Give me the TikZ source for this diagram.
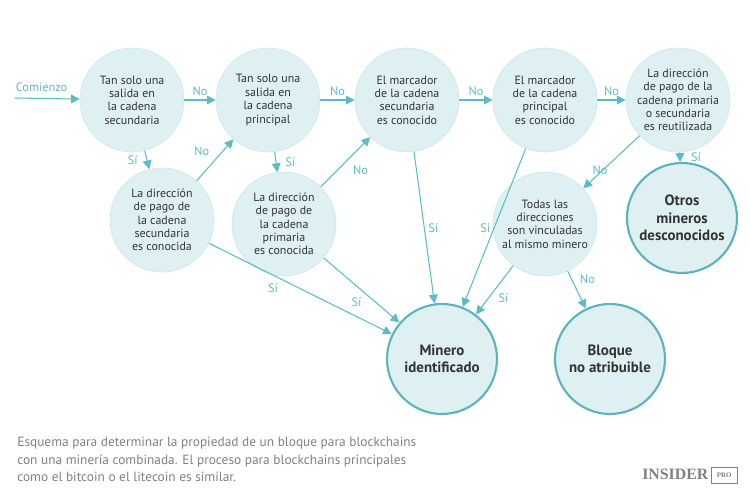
\documentclass[tikz,border=0pt]{standalone}
\usepackage{fontspec}
\setmainfont{PT Sans}
\newfontfamily\logofont{Liberation Serif}
\usetikzlibrary{arrows.meta}
\definecolor{flowline}{HTML}{5BBCC6}
\definecolor{bubble}{HTML}{DFF0F3}
\definecolor{bubbleedge}{HTML}{CDE8EC}
\definecolor{endedge}{HTML}{5BB3BB}
\definecolor{inktext}{HTML}{333333}
\tikzstyle{question} = [circle, minimum size=2.08cm, inner sep=0pt, align=center, fill=bubble, draw=bubbleedge, text=inktext, font=\fontsize{6.8}{7.6}\selectfont]
\tikzstyle{outcome} = [circle, minimum size=2.2cm, inner sep=0pt, align=center, fill=bubble, draw=endedge, line width=1.2pt, text=inktext, font=\fontsize{8.5}{10}\selectfont\bfseries]
\tikzstyle{arrow} = [draw=flowline, line width=0.6pt, -{Triangle[length=5pt,width=5pt]}]
\tikzstyle{answer} = [text=flowline, font=\fontsize{7}{8}\selectfont, inner sep=2pt]

\begin{document}
\begin{tikzpicture}[x=0.02cm, y=-0.02cm]
		\useasboundingbox (0,0) rectangle (750,492);
		
		\node (Start) [answer, anchor=south west] at (12,96) {Comienzo};
		\coordinate (Entry) at (15,98);
		\node (OneOutSec) [question] at (132,100) {Tan solo una\\salida en\\la cadena\\secundaria};
		\node (OneOutMain) [question] at (268,100) {Tan solo una\\salida en\\la cadena\\principal};
		\node (MarkSec) [question] at (407,100) {El marcador\\de la cadena\\secundaria\\es conocido};
		\node (MarkMain) [question] at (545,100) {El marcador\\de la cadena\\principal\\es conocido};
		\node (Reused) [question] at (678,100) {La dirección\\de pago de la\\cadena primaria\\o secundaria\\es reutilizada};
		\node (PaySec) [question] at (162,220) {La dirección\\de pago de\\la cadena\\secundaria\\es conocida};
		\node (PayMain) [question] at (284,224) {La dirección\\de pago de\\la cadena\\primaria\\es conocida};
		\node (Linked) [question] at (545,224) {Todas las\\direcciones\\son vinculadas\\al mismo minero};
		\node (Others) [outcome] at (682,218) {Otros\\mineros\\desconocidos};
		\node (Identified) [outcome] at (442,359) {Minero\\identificado};
		\node (Unknown) [outcome] at (610,359) {Bloque\\no atribuible};
		
		\draw [arrow] (Entry) -- (OneOutSec);
		\draw [arrow] (OneOutSec) -- node[answer, above] {No} (OneOutMain);
		\draw [arrow] (OneOutMain) -- node[answer, above] {No} (MarkSec);
		\draw [arrow] (MarkSec) -- node[answer, above] {No} (MarkMain);
		\draw [arrow] (MarkMain) -- node[answer, above] {No} (Reused);
		\draw [arrow] (OneOutSec) -- node[answer, left, xshift=-3pt] {Sí} (PaySec);
		\draw [arrow] (PaySec) -- node[answer, above left, xshift=-1pt] {No} (OneOutMain);
		\draw [arrow] (OneOutMain) -- node[answer, right, xshift=3pt] {Sí} (PayMain);
		\draw [arrow] (PayMain) -- node[answer, below right, xshift=2pt] {No} (MarkSec);
		\draw [arrow] (Reused) -- node[answer, right, xshift=4pt] {Sí} (Others);
		\draw [arrow] (Reused) -- node[answer, below left, pos=0.5] {No} (Linked);
		\draw [arrow] (PaySec) -- node[answer, below left, pos=0.4] {Sí} (Identified);
		\draw [arrow] (PayMain) -- node[answer, below left, pos=0.55] {Sí} (Identified);
		\draw [arrow] (MarkSec) -- node[answer, right, pos=0.5] {Sí} (Identified);
		\draw [arrow] (MarkMain) -- node[answer, left, pos=0.5] {Sí} (Identified);
		\draw [arrow] (Linked) -- node[answer, below right, pos=0.5] {Sí} (Identified);
		\draw [arrow] (Linked) -- node[answer, above right, pos=0.45] {No} (Unknown);
		
		\node (Caption) [anchor=north west, align=left, text=gray, font=\fontsize{7.6}{10}\selectfont, inner sep=0pt] at (17,437) {Esquema para determinar la propiedad de un bloque para blockchains\\con una minería combinada. El proceso para blockchains principales\\como el bitcoin o el litecoin es similar.};
		\node (Logo) [anchor=south east, text=gray, inner sep=0pt, font=\logofont\bfseries\fontsize{9}{9}\selectfont] at (738,484) {INSIDER\,\raisebox{1pt}{\fbox{\fontsize{4}{4}\selectfont PRO}}};
	\end{tikzpicture}
\end{document}
